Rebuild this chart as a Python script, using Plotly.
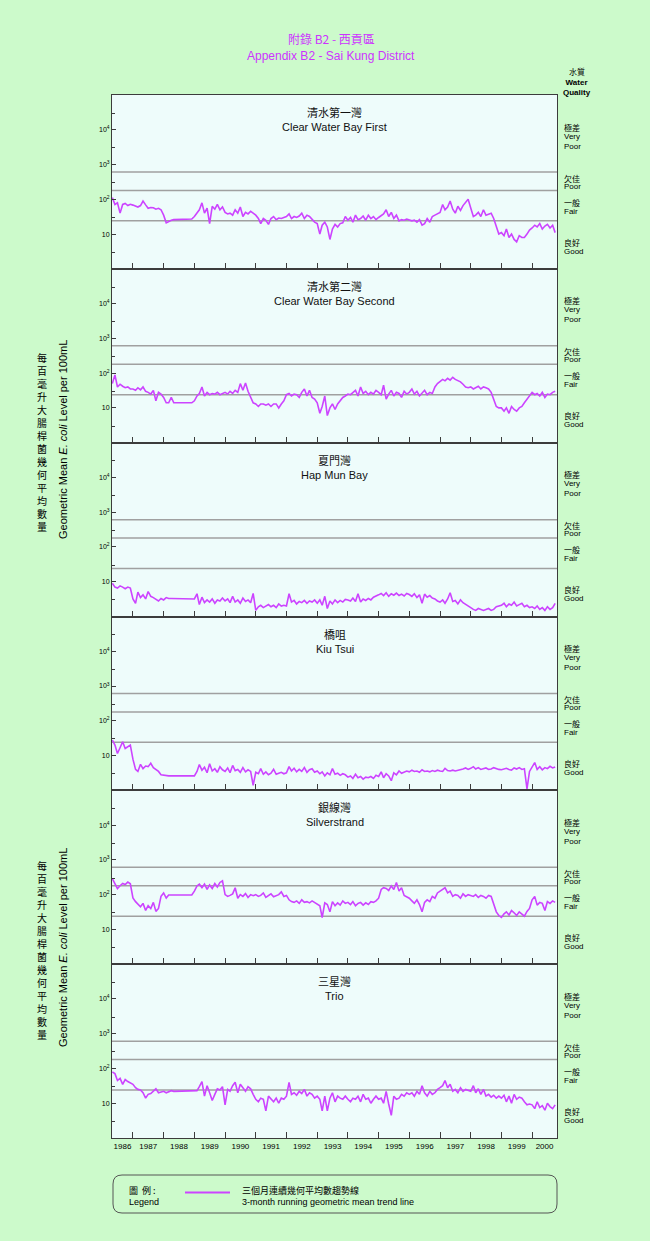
import pandas as pd
import plotly.graph_objects as go
from plotly.subplots import make_subplots

# ---------------- data ----------------
stations_zh = ["清水第一灣", "清水第二灣", "夏門灣", "橋咀", "銀線灣", "三星灣"]
stations_en = ["Clear Water Bay First", "Clear Water Bay Second", "Hap Mun Bay",
               "Kiu Tsui", "Silverstrand", "Trio"]
year_labels = [str(y) for y in range(1986, 2001)]
thresholds = [24, 180, 610]
quality_zh = ["極差", "欠佳", "一般", "良好"]
quality_en = ["Very<br>Poor", "Poor", "Fair", "Good"]

# monthly 3-month running geometric means, May 1986 .. Oct 2000
dates = pd.date_range("1986-05-01", "2000-10-01", freq="MS")

cwb_first = [
    112, 71, 79, 40, 71, 76, 66, 72,
    68, 63, 60, 66, 89, 69, 55, 58, 57, 52, 55, 50,
    35, 21, 23, 25, 26, 26, 26, 26, 26, 26, 26, 27,
    32, 42, 50, 79, 40, 56, 20, 63, 52, 71, 50, 60,
    42, 38, 40, 35, 50, 40, 60, 32, 42, 38, 45, 40,
    35, 28, 20, 28, 25, 19, 28, 32, 26, 29, 28, 30,
    32, 38, 28, 32, 30, 33, 40, 28, 35, 32, 26, 22,
    20, 10, 18, 22, 16, 7, 14, 19, 16, 20, 21, 32,
    25, 30, 22, 35, 26, 28, 33, 25, 35, 28, 32, 26,
    30, 33, 38, 50, 32, 42, 28, 35, 24, 26, 25, 27,
    26, 24, 25, 22, 26, 18, 20, 28, 22, 32, 35, 38,
    42, 71, 50, 60, 89, 52, 40, 63, 48, 66, 79, 100,
    56, 32, 35, 42, 32, 50, 35, 38, 40, 28, 16, 10,
    11, 9, 14, 8, 10, 7, 6, 9, 8, 8, 10, 13,
    15, 18, 16, 20, 14, 17, 19, 15, 18, 11,
]
cwb_second = [
    50, 89, 40, 48, 42, 38, 40, 35,
    35, 32, 38, 33, 40, 30, 28, 25, 32, 16, 28, 25,
    20, 14, 14, 20, 14, 14, 14, 14, 14, 14, 14, 14,
    16, 22, 26, 40, 22, 28, 24, 26, 25, 28, 24, 26,
    28, 25, 30, 26, 32, 28, 50, 32, 52, 30, 20, 14,
    13, 11, 13, 13, 12, 13, 11, 13, 13, 10, 13, 16,
    24, 26, 22, 25, 24, 20, 28, 35, 22, 32, 20, 18,
    14, 7, 11, 22, 6, 10, 13, 9, 13, 16, 20, 22,
    25, 24, 28, 32, 22, 40, 26, 30, 24, 28, 25, 32,
    28, 24, 45, 18, 25, 32, 22, 28, 26, 20, 30, 25,
    28, 35, 25, 30, 22, 26, 32, 24, 28, 26, 40, 50,
    56, 66, 60, 71, 63, 76, 66, 60, 56, 48, 40, 38,
    40, 35, 38, 42, 35, 40, 38, 35, 28, 18, 11, 10,
    10, 8, 10, 7, 11, 9, 8, 10, 11, 14, 18, 22,
    28, 24, 26, 22, 28, 20, 25, 24, 28, 30,
]
hap_mun_bay = [
    9.0, 7.0, 6.6, 7.6, 7.0, 6.3, 7.0, 6.6,
    3.2, 2.4, 5.0, 3.5, 4.2, 3.2, 5.2, 3.8, 3.5, 3.2, 2.8, 3.3,
    3.0, 3.5, 3.3, 3.3, 3.3, 3.3, 3.3, 3.3, 3.3, 3.3, 3.3, 3.3,
    3.2, 4.5, 2.2, 3.6, 2.5, 3.0, 2.6, 3.2, 2.4, 3.0, 2.8, 3.4,
    2.8, 3.2, 2.5, 3.8, 2.6, 3.0, 2.4, 3.4, 2.7, 3.0, 2.5, 4.6,
    1.5, 1.9, 2.1, 1.8, 2.0, 2.2, 1.9, 2.1, 1.8, 2.3, 2.0, 2.1,
    2.0, 4.5, 2.6, 2.9, 2.3, 2.7, 2.5, 2.9, 2.4, 2.8, 2.6, 3.0,
    2.4, 3.0, 2.1, 3.8, 1.7, 2.8, 2.3, 3.0, 2.5, 2.9, 2.6, 3.1,
    3.0, 2.8, 3.4, 2.7, 4.5, 2.6, 3.2, 2.9, 3.3, 3.0, 3.6, 3.8,
    4.2, 4.6, 4.0, 4.8, 3.8, 4.5, 4.1, 4.7, 4.0, 4.4, 3.9, 4.6,
    4.3, 3.8, 4.5, 3.5, 4.2, 2.4, 4.4, 3.6, 4.0, 3.4, 3.2, 2.8,
    2.6, 3.0, 2.4, 3.2, 4.8, 2.7, 2.9, 2.3, 3.0, 2.5, 2.2, 2.0,
    1.8, 1.6, 1.5, 1.7, 1.6, 1.5, 1.6, 1.7, 1.5, 1.6, 1.9, 2.0,
    2.1, 2.4, 1.9, 2.3, 2.1, 2.6, 2.0, 2.2, 2.4, 1.9, 2.1, 1.8,
    1.9, 1.7, 2.0, 1.6, 1.8, 1.5, 1.9, 1.6, 1.8, 2.4,
]
kiu_tsui = [
    28, 20, 11.5, 18, 25, 16, 18, 20,
    7.9, 4.0, 3.5, 5.6, 4.2, 5.0, 4.8, 6.0, 4.5, 4.0, 3.5, 2.8,
    2.7, 2.6, 2.6, 2.6, 2.6, 2.6, 2.6, 2.6, 2.6, 2.6, 2.6, 2.6,
    2.6, 3.5, 5.5, 3.8, 4.6, 3.2, 5.8, 3.6, 4.2, 3.3, 4.8, 3.9,
    3.5, 4.4, 3.2, 5.2, 3.7, 4.0, 3.3, 4.5, 3.4, 3.9, 3.5, 1.4,
    3.3, 3.0, 4.2, 2.9, 3.4, 2.8, 3.1, 4.0, 2.9, 3.1, 3.3, 3.0,
    3.2, 4.8, 3.6, 4.3, 3.4, 4.0, 3.5, 4.5, 3.3, 3.9, 4.2, 3.3,
    3.6, 3.0, 3.4, 2.6, 3.2, 2.8, 4.2, 2.9, 3.1, 2.7, 3.0, 2.8,
    2.4, 2.6, 2.2, 2.9, 2.3, 2.5, 2.1, 2.4, 2.3, 2.5, 2.2, 2.7,
    2.5, 3.4, 2.3, 3.0, 2.6, 1.9, 3.2, 2.8, 3.6, 3.1, 3.3, 3.6,
    3.4, 3.8, 3.5, 3.6, 3.3, 3.9, 3.5, 3.6, 3.4, 3.7, 3.5, 3.8,
    3.6, 3.5, 4.3, 3.7, 3.6, 3.8, 3.6, 3.7, 3.9, 4.1, 4.4, 4.0,
    4.3, 4.8, 4.1, 4.5, 4.0, 4.2, 4.4, 4.0, 4.1, 4.5, 4.2, 4.0,
    3.9, 4.1, 4.3, 4.0, 3.8, 4.4, 4.1, 4.5, 4.0, 4.2, 1.1, 3.5,
    4.6, 6.3, 4.0, 4.8, 3.9, 4.5, 4.2, 4.9, 4.4, 4.7,
]
silverstrand = [
    290, 200, 150, 180, 210, 195, 230, 205,
    80, 63, 52, 45, 56, 35, 48, 40, 60, 33, 40, 89,
    112, 80, 98, 98, 98, 98, 98, 98, 98, 98, 98, 98,
    126, 178, 200, 158, 200, 141, 190, 151, 209, 166, 224, 250,
    100, 89, 95, 105, 158, 79, 100, 89, 107, 83, 100, 93,
    100, 89, 95, 112, 83, 91, 105, 87, 95, 100, 120, 89,
    95, 71, 63, 60, 66, 56, 71, 60, 63, 58, 66, 60,
    56, 48, 22, 58, 52, 32, 63, 48, 58, 50, 66, 56,
    60, 52, 63, 48, 56, 60, 50, 58, 52, 63, 60, 66,
    79, 141, 158, 151, 132, 178, 141, 224, 126, 158, 95, 89,
    79, 66, 56, 71, 52, 32, 60, 71, 63, 89, 79, 112,
    126, 141, 158, 112, 126, 89, 100, 95, 79, 105, 89, 100,
    95, 89, 100, 83, 95, 89, 79, 95, 89, 56, 32, 25,
    22, 28, 32, 26, 35, 30, 25, 32, 28, 24, 33, 40,
    71, 89, 50, 60, 56, 35, 63, 56, 66, 60,
]
trio = [
    79, 71, 45, 52, 35, 48, 42, 38,
    35, 28, 25, 24, 20, 14, 18, 19, 22, 26, 20, 21,
    22, 20, 22, 23, 22, 22, 23, 22, 23, 22, 23, 23,
    23, 23, 30, 42, 16, 32, 20, 12, 18, 26, 24, 30,
    9, 25, 22, 32, 40, 20, 35, 28, 22, 30, 26, 18,
    13, 11, 14, 13, 6, 16, 13, 11, 14, 10, 14, 13,
    16, 40, 18, 20, 17, 22, 19, 25, 16, 20, 18, 14,
    16, 13, 6, 16, 6, 14, 20, 11, 16, 14, 13, 16,
    13, 11, 14, 13, 16, 11, 18, 13, 14, 10, 13, 16,
    13, 14, 10, 22, 9.5, 4.5, 16, 13, 14, 18, 16, 20,
    18, 20, 16, 22, 18, 32, 20, 16, 22, 18, 20, 25,
    28, 32, 45, 28, 35, 22, 25, 20, 28, 22, 25, 24,
    22, 32, 20, 26, 18, 25, 16, 18, 15, 17, 14, 16,
    14, 17, 11, 16, 10, 18, 13, 15, 14, 11, 9, 9.5,
    9, 7, 11, 7.5, 8.5, 6.3, 10, 8, 7, 9,
]
series = [cwb_first, cwb_second, hap_mun_bay, kiu_tsui, silverstrand, trio]

# ---------------- styling ----------------
W, H = 650, 1241
L, R, T, B = 112, 557, 95, 1138
PAGE_BG = "#ccfacb"
PLOT_BG = "#eefcfb"
LINE = "#cc44ff"
TITLE_C = "#cc33ff"
AXIS_C = "#3c3c3c"
GRID_C = "#a0a0a0"
FONT_EN = "Liberation Sans, Arial, sans-serif"
FONT_ZH = "Noto Sans CJK TC, Noto Sans CJK SC, sans-serif"


def px(x):
    return (x - L) / (R - L)


def py(y):
    return (B - y) / (B - T)


x_range = ["1986-04-27", "2000-10-23"]
year_starts = [f"{y}-01-01" for y in range(1987, 2001)]
label_pos = ["1986-08-29"] + [f"{y}-07-02" for y in range(1987, 2000)] + ["2000-05-28"]

fig = make_subplots(rows=6, cols=1, shared_xaxes=True, vertical_spacing=0)

for i, vals in enumerate(series, start=1):
    for t in thresholds:
        fig.add_trace(go.Scatter(x=x_range, y=[t, t], mode="lines",
                                 line=dict(color=GRID_C, width=1.5),
                                 hoverinfo="skip", showlegend=False), row=i, col=1)
    fig.add_trace(go.Scatter(x=dates, y=vals, mode="lines",
                             line=dict(color=LINE, width=1.6),
                             name=stations_en[i - 1], showlegend=False), row=i, col=1)

fig.update_yaxes(type="log", range=[0, 5],
                 tickmode="array", tickvals=[10, 100, 1000, 10000],
                 ticktext=["10", "10<sup>2</sup>", "10<sup>3</sup>", "10<sup>4</sup>"],
                 ticks="inside", ticklen=4, tickcolor=AXIS_C, tickwidth=1,
                 tickfont=dict(family=FONT_EN, size=7, color="#000"),
                 showgrid=False, zeroline=False, showline=True, mirror=True,
                 linecolor=AXIS_C, linewidth=1,
                 minor=dict(tickmode="array", tickvals=[3, 30, 300, 3000, 30000],
                            ticks="inside", ticklen=3, tickcolor=AXIS_C, showgrid=False))
fig.update_xaxes(type="date", range=x_range,
                 tickmode="array", tickvals=label_pos, ticktext=year_labels,
                 ticks="", tickfont=dict(family=FONT_EN, size=8, color="#000"),
                 showgrid=False, zeroline=False, showline=True, mirror=True,
                 linecolor=AXIS_C, linewidth=1,
                 minor=dict(tickmode="array", tickvals=year_starts, ticks="inside",
                            ticklen=6, tickcolor=AXIS_C, tickwidth=1, showgrid=False))


def note(text, x, y, font, xref="paper", yref="paper", xanchor="center", **kw):
    return dict(text=text, x=x, y=y, xref=xref, yref=yref, xanchor=xanchor,
                yanchor="middle", showarrow=False, font=font, **kw)


ann = []
# titles
ann.append(note("附錄 B2 - 西貢區", px(331), py(38), dict(family=FONT_ZH, size=12, color=TITLE_C)))
ann.append(note("Appendix B2 - Sai Kung District", px(331), py(56),
                dict(family=FONT_EN, size=12, color=TITLE_C)))
# header for quality labels
ann.append(note("水質", px(577), py(72), dict(family=FONT_ZH, size=8, color="#000")))
ann.append(note("<b>Water</b><br><b>Quality</b>", px(577), py(87),
                dict(family=FONT_EN, size=8, color="#000")))

hpan = (B - T) / 6
q_zh_off = [32, 83, 107, 147]
q_en_off = [46, 91, 116, 156]
for i in range(1, 7):
    xd = "x domain" if i == 1 else f"x{i} domain"
    yd = "y domain" if i == 1 else f"y{i} domain"
    ann.append(note(stations_zh[i - 1], 0.5, 1 - 17 / hpan,
                    dict(family=FONT_ZH, size=11, color="#111"), xref=xd, yref=yd))
    ann.append(note(stations_en[i - 1], 0.5, 1 - 32 / hpan,
                    dict(family=FONT_EN, size=11, color="#111"), xref=xd, yref=yd))
    for k in range(4):
        ann.append(note(quality_zh[k], px(562), 1 - q_zh_off[k] / hpan,
                        dict(family=FONT_ZH, size=8, color="#000"), yref=yd, xanchor="left"))
        ann.append(note(quality_en[k], px(562), 1 - q_en_off[k] / hpan,
                        dict(family=FONT_EN, size=8, color="#000"), yref=yd, xanchor="left",
                        align="left"))

# y-axis titles (two copies)
zh_title = "<br>".join(list("每百毫升大腸桿菌幾何平均數量"))
en_title = "Geometric Mean <i>E. coli</i> Level per 100mL"
for yc in (442, 950):
    ann.append(note(zh_title, px(42), py(yc), dict(family=FONT_ZH, size=10, color="#000")))
    ann.append(note(en_title, px(63), py(yc - 2), dict(family=FONT_EN, size=11, color="#000"),
                    textangle=-90))

# legend
ann.append(note("圖\u00a0\u00a0例\u00a0:", px(127), py(1190),
                dict(family=FONT_ZH, size=9, color="#000"), xanchor="left"))
ann.append(note("Legend", px(127), py(1202), dict(family=FONT_EN, size=9, color="#000"),
                xanchor="left"))
ann.append(note("三個月連續幾何平均數趨勢線", px(240), py(1190),
                dict(family=FONT_ZH, size=9, color="#000"), xanchor="left"))
ann.append(note("3-month running geometric mean trend line", px(240), py(1202),
                dict(family=FONT_EN, size=9, color="#000"), xanchor="left"))

# rounded legend box
x0, x1, y0, y1 = px(113), px(557), py(1175), py(1213)
rx, ry = 9 / (R - L), 9 / (B - T)
path = (f"M {x0 + rx},{y0} L {x1 - rx},{y0} Q {x1},{y0} {x1},{y0 - ry} "
        f"L {x1},{y1 + ry} Q {x1},{y1} {x1 - rx},{y1} L {x0 + rx},{y1} "
        f"Q {x0},{y1} {x0},{y1 + ry} L {x0},{y0 - ry} Q {x0},{y0} {x0 + rx},{y0} Z")
shapes = [
    dict(type="path", path=path, xref="paper", yref="paper",
         line=dict(color="#555", width=1)),
    dict(type="line", x0=px(185), x1=px(230), y0=py(1192.5), y1=py(1192.5),
         xref="paper", yref="paper", line=dict(color=LINE, width=2)),
]

fig.update_layout(width=W, height=H, autosize=False,
                  margin=dict(l=L, r=W - R, t=T, b=H - B, pad=0),
                  paper_bgcolor=PAGE_BG, plot_bgcolor=PLOT_BG,
                  annotations=ann, shapes=shapes, showlegend=False,
                  font=dict(family=FONT_EN))

fig.write_html("out.html")
